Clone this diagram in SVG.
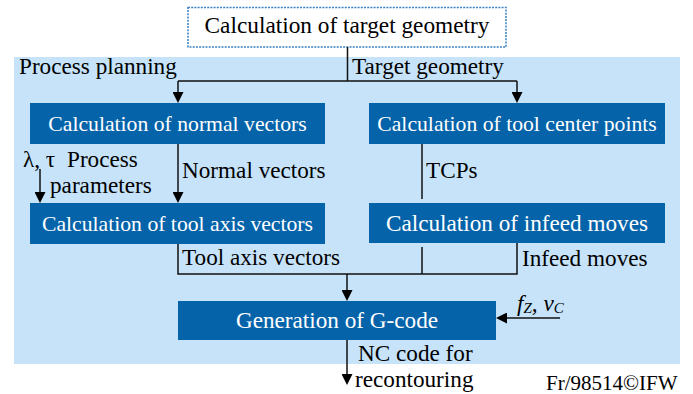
<svg xmlns="http://www.w3.org/2000/svg" width="693" height="394" viewBox="0 0 693 394">
<defs>
<style>
text{font-family:'Liberation Serif','Tinos','Times New Roman','DejaVu Serif',serif;fill:#000}
.bx{fill:#0563aa}
.bt{fill:#fff;text-anchor:middle}
.lb{font-size:23.2px}
.ln{fill:none;stroke:#111;stroke-width:1.5}
.ar{marker-end:url(#ah)}
</style>
<marker id="ah" viewBox="0 0 11 11" refX="0" refY="5.5" markerWidth="11" markerHeight="11" markerUnits="userSpaceOnUse" orient="auto">
<path d="M0,0 L11,5.5 L0,11 z" fill="#000"/>
</marker>
</defs>
<g font-family="Liberation Serif, DejaVu Serif, serif">
<rect id="process-planning-area" x="14" y="57" width="666" height="307" fill="#c6e3f9"/>
<text class="lb" x="19" y="74">Process planning</text>

<g id="target-geometry">
<rect x="188" y="7.5" width="318" height="39.5" fill="#fff" stroke="#3a80c2" stroke-width="1.5" stroke-dasharray="2,1.2"/>
<text x="347" y="33" font-size="23.3" text-anchor="middle">Calculation of target geometry</text>
</g>
<g id="normal-vectors">
<rect class="bx" x="30" y="103" width="295" height="41"/>
<text class="bt" x="177.5" y="131" font-size="21.7">Calculation of normal vectors</text>
</g>
<g id="tool-center-points">
<rect class="bx" x="369" y="103" width="296" height="41"/>
<text class="bt" x="517" y="131" font-size="21.7">Calculation of tool center points</text>
</g>
<g id="tool-axis-vectors">
<rect class="bx" x="30" y="203" width="295" height="41"/>
<text class="bt" x="177.5" y="231" font-size="21.7">Calculation of tool axis vectors</text>
</g>
<g id="infeed-moves">
<rect class="bx" x="369" y="203" width="296" height="40"/>
<text class="bt" x="517" y="231" font-size="23.2">Calculation of infeed moves</text>
</g>
<g id="g-code">
<rect class="bx" x="178" y="301" width="318" height="39"/>
<text class="bt" x="337" y="328" font-size="23.2">Generation of G-code</text>
</g>

<g id="connectors">
<path class="ln" d="M347.5,47 V81 M178,81 H517"/>
<path class="ln ar" d="M178,81 V92"/>
<path class="ln ar" d="M517,81 V92"/>
<path class="ln ar" d="M178,144 V192"/>
<path class="ln ar" d="M40,169 V192"/>
<path class="ln" d="M422,144 V199"/>
<path class="ln" d="M178,244 V274 H517 V243 M422,247 V274"/>
<path class="ln ar" d="M347,274 V290"/>
<path class="ln ar" d="M347,340 V374"/>
<path class="ln ar" d="M560,318 H507"/>
<text class="lb" x="352" y="74">Target geometry</text>
<text class="lb" x="182" y="178">Normal vectors</text>
<text class="lb" x="426" y="178">TCPs</text>
<text class="lb" x="23" y="167">λ, τ<tspan x="67">Process</tspan></text>
<text class="lb" x="50" y="193">parameters</text>
<text class="lb" x="182" y="265">Tool axis vectors</text>
<text class="lb" x="522" y="266">Infeed moves</text>
<text class="lb" x="358" y="361">NC code for</text>
<text class="lb" x="355" y="387">recontouring</text>
<text class="lb" x="517" y="311" font-style="italic">f<tspan font-size="15" dy="2">Z</tspan><tspan dy="-2">, v</tspan><tspan font-size="15" dy="2">C</tspan></text>
</g>
<text x="546" y="390" font-size="21">Fr/98514©IFW</text>
</g>
</svg>
